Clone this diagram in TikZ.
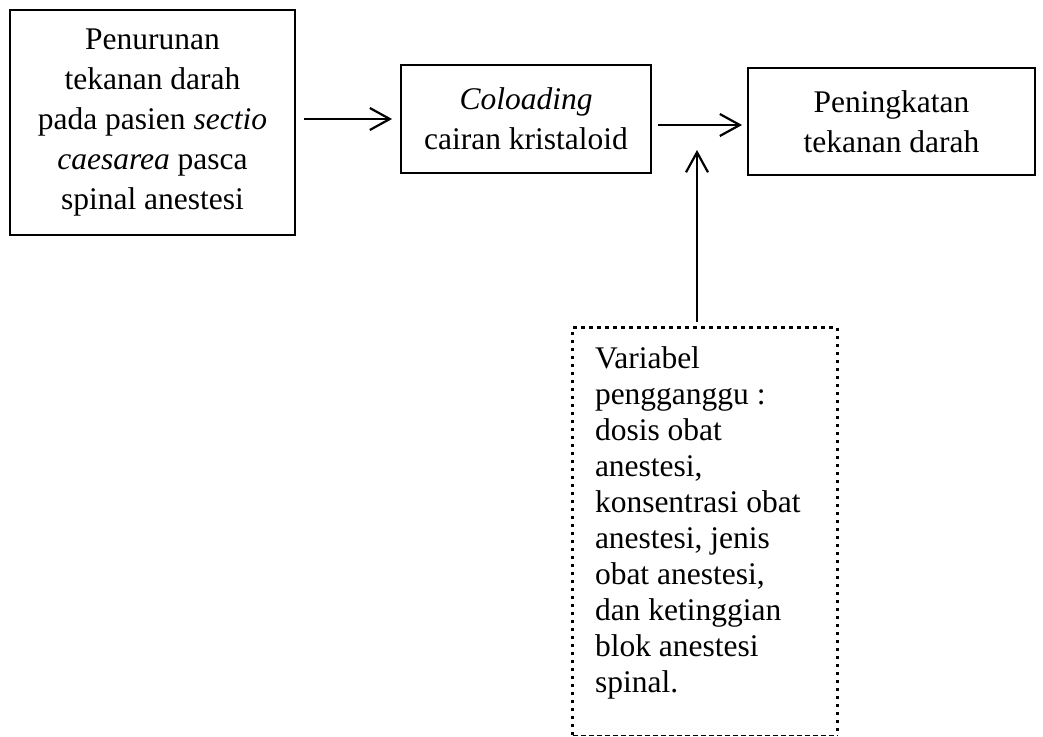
\documentclass[tikz,border=0pt]{standalone}
\usepackage{fontspec}
\setmainfont{Liberation Serif}
\usetikzlibrary{arrows.meta}

\begin{document}
\begin{tikzpicture}[x=1pt, y=-1pt,
    every node/.style = {font=\fontsize{31.5}{40}\selectfont, inner sep=0pt},
    box/.style = {draw, line width=1.8pt, align=center},
    arr/.style = {-{Straight Barb[length=20pt, width=22pt, line width=2.2pt]}, line width=2.2pt}]
\useasboundingbox (0,0) rectangle (1043,736);

\node[box, minimum width=285pt, minimum height=225pt] (turun) at (152.5,122.5)
    {Penurunan\\tekanan darah\\pada pasien \textit{sectio}\\\textit{caesarea} pasca\\spinal anestesi};
\node[box, minimum width=250pt, minimum height=108pt] (colo) at (526,119)
    {\textit{Coloading}\\cairan kristaloid};
\node[box, minimum width=287pt, minimum height=107pt] (naik) at (891.5,121.5)
    {Peningkatan\\tekanan darah};

% kotak variabel pengganggu
\node[minimum width=264pt, minimum height=407pt] (ganggu) at (705,531.5) {};
\node[anchor=north west, align=left, font=\fontsize{31.5}{36}\selectfont] (gangtxt)
    at ([xshift=22pt, yshift=-19pt]ganggu.north west)
    {Variabel\\pengganggu :\\dosis obat\\anestesi,\\konsentrasi obat\\anestesi, jenis\\obat anestesi,\\dan ketinggian\\blok anestesi\\spinal.};
\draw[line width=3.2pt, dash pattern=on 3.2pt off 4.8pt]
    (ganggu.south west) -- (ganggu.north west) -- (ganggu.north east) -- (ganggu.south east);
\draw[line width=1.2pt, dash pattern=on 5pt off 3pt] (ganggu.south west) -- (ganggu.south east);

\coordinate (ujung) at (697,150);
\draw[arr] ([xshift=8pt]turun.east |- colo.west) -- ([xshift=-8pt]colo.west);
\draw[arr] ([xshift=6pt, yshift=-6pt]colo.east) -- ([xshift=-5pt, yshift=-6pt]colo.east -| naik.west);
\draw[arr] ([yshift=6pt]ganggu.north -| ujung) -- (ujung);

\end{tikzpicture}
\end{document}
